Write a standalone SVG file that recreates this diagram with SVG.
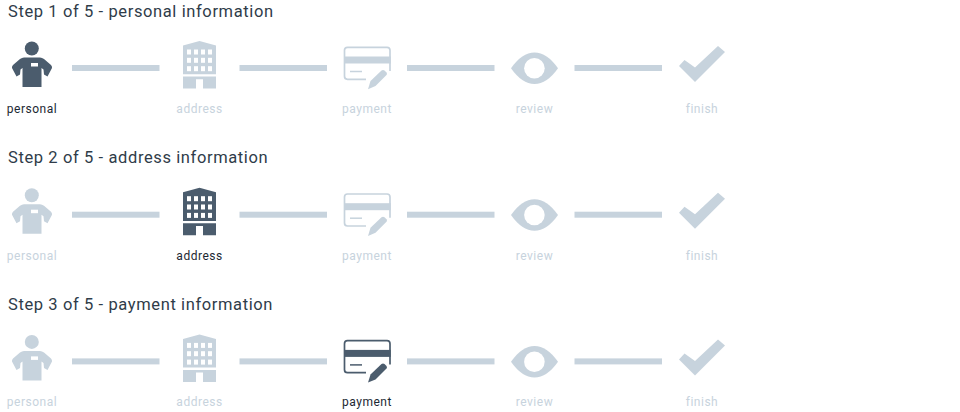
<svg xmlns="http://www.w3.org/2000/svg" width="960" height="412" viewBox="0 0 960 412">
<style>
text{font-family:"Roboto","Liberation Sans",sans-serif;font-weight:400}
.title{font-size:16.5px;fill:#2f3c49;letter-spacing:.61px}
.lab{font-size:12px;text-anchor:middle;letter-spacing:.5px}
.on{color:#4b5c6d}
.off{color:#c7d3dd}
.on text{fill:#1c2833}
.off text{fill:#c7d3dd}
.bar{fill:#c7d3dd}
</style>
<defs>
<g id="i-person" fill="currentColor">
<circle cx="31.800" cy="48.500" r="7"/>
<path d="M24 57.500H40Q42 57.500 44 59L51 65Q52.300 66.500 52 68L47.500 76.500L44 74.500L43.500 69.500L41.500 68V87H22.500V68L20.500 69.500L20 74.500L16.500 76.500L12 68Q11.700 66.500 13 65L20 59Q22 57.500 24 57.500Z"/>
<rect x="31" y="63" width="7" height="3.500" fill="#fff"/>
</g>
<g id="i-building" fill="currentColor">
<path d="M183 45.500L199.500 41L216 45.500V74.200H183Z"/>
<path d="M183 76.500H216V88.500H203V79.200H196V88.500H183Z"/>
<g fill="#fff">
<rect x="187" y="49.500" width="4" height="5"/><rect x="194" y="49.500" width="4" height="5"/><rect x="201" y="49.500" width="4" height="5"/><rect x="208" y="49.500" width="4" height="5"/>
<rect x="187" y="57.800" width="4" height="5"/><rect x="194" y="57.800" width="4" height="5"/><rect x="201" y="57.800" width="4" height="5"/><rect x="208" y="57.800" width="4" height="5"/>
<rect x="187" y="66.200" width="4" height="5"/><rect x="194" y="66.200" width="4" height="5"/><rect x="201" y="66.200" width="4" height="5"/><rect x="208" y="66.200" width="4" height="5"/>
</g>
</g>
<g id="i-card">
<path d="M390 71V50.300Q390 47.300 387 47.300H347.500Q344.500 47.300 344.500 50.300V76.300Q344.500 79.300 347.500 79.300H366" fill="none" stroke="currentColor" stroke-width="1.700"/>
<rect x="344" y="56.500" width="46.800" height="7" fill="currentColor"/>
<path d="M350 71.500H362" fill="none" stroke="currentColor" stroke-width="1.500"/>
<path d="M368 89.200L370.500 81L381.500 70.500Q383 69.500 384.500 70.500L386.500 72.500Q387.500 74 386.500 75L375.500 86Z" fill="currentColor"/>
</g>
<g id="i-eye" fill="currentColor">
<path d="M511 68.300Q522 52.500 534.500 52.500T558 68.300Q547 84 534.500 84T511 68.300Z"/>
<circle cx="534.400" cy="68.300" r="10.300" fill="#fff"/>
</g>
<g id="i-check" fill="currentColor">
<path d="M679 66L684.500 60L695 67.500L718 46L725 52L695 82Z"/>
</g>
</defs>

<g id="connectors">
<g id="row1-connectors"><rect class="bar" x="72" y="65" width="87.500" height="6"/><rect class="bar" x="239.500" y="65" width="87.500" height="6"/><rect class="bar" x="407" y="65" width="87.500" height="6"/><rect class="bar" x="574.500" y="65" width="87.500" height="6"/></g>
<g id="row2-connectors"><rect class="bar" x="72" y="211.700" width="87.500" height="6"/><rect class="bar" x="239.500" y="211.700" width="87.500" height="6"/><rect class="bar" x="407" y="211.700" width="87.500" height="6"/><rect class="bar" x="574.500" y="211.700" width="87.500" height="6"/></g>
<g id="row3-connectors"><rect class="bar" x="72" y="358.400" width="87.500" height="6"/><rect class="bar" x="239.500" y="358.400" width="87.500" height="6"/><rect class="bar" x="407" y="358.400" width="87.500" height="6"/><rect class="bar" x="574.500" y="358.400" width="87.500" height="6"/></g>
</g>

<text id="title1" class="title" x="8" y="16.500">Step 1 of 5 - personal information</text>
<g id="r1-personal" class="on"><use href="#i-person"/><text class="lab" x="32" y="113">personal</text></g>
<g id="r1-address" class="off"><use href="#i-building"/><text class="lab" x="199.500" y="113">address</text></g>
<g id="r1-payment" class="off"><use href="#i-card"/><text class="lab" x="367" y="113">payment</text></g>
<g id="r1-review" class="off"><use href="#i-eye"/><text class="lab" x="534.500" y="113">review</text></g>
<g id="r1-finish" class="off"><use href="#i-check"/><text class="lab" x="702" y="113">finish</text></g>

<text id="title2" class="title" x="8" y="163.200">Step 2 of 5 - address information</text>
<g id="r2-personal" class="off"><use href="#i-person" y="146.700"/><text class="lab" x="32" y="259.700">personal</text></g>
<g id="r2-address" class="on"><use href="#i-building" y="146.700"/><text class="lab" x="199.500" y="259.700">address</text></g>
<g id="r2-payment" class="off"><use href="#i-card" y="146.700"/><text class="lab" x="367" y="259.700">payment</text></g>
<g id="r2-review" class="off"><use href="#i-eye" y="146.700"/><text class="lab" x="534.500" y="259.700">review</text></g>
<g id="r2-finish" class="off"><use href="#i-check" y="146.700"/><text class="lab" x="702" y="259.700">finish</text></g>

<text id="title3" class="title" x="8" y="309.900">Step 3 of 5 - payment information</text>
<g id="r3-personal" class="off"><use href="#i-person" y="293.400"/><text class="lab" x="32" y="406.400">personal</text></g>
<g id="r3-address" class="off"><use href="#i-building" y="293.400"/><text class="lab" x="199.500" y="406.400">address</text></g>
<g id="r3-payment" class="on"><use href="#i-card" y="293.400"/><text class="lab" x="367" y="406.400">payment</text></g>
<g id="r3-review" class="off"><use href="#i-eye" y="293.400"/><text class="lab" x="534.500" y="406.400">review</text></g>
<g id="r3-finish" class="off"><use href="#i-check" y="293.400"/><text class="lab" x="702" y="406.400">finish</text></g>
</svg>
